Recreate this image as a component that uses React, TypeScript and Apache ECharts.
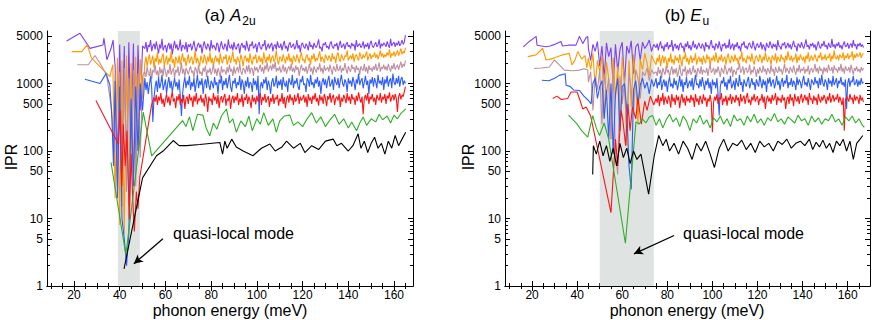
import React, { useEffect, useRef } from "react";
import * as echarts from "echarts";

// ---------- tick labels ----------
const xTickLabels = [20, 40, 60, 80, 100, 120, 140, 160];
const xMinorTicks = [10, 15, 25, 30, 35, 45, 50, 55, 65, 70, 75, 85, 90, 95, 105, 110, 115, 125, 130, 135, 145, 150, 155, 165];
const yTickLabels = [1, 5, 10, 50, 100, 500, 1000, 5000];
const yMinorTicks = [2, 3, 4, 6, 7, 8, 9, 20, 30, 40, 60, 70, 80, 90, 200, 300, 400, 600, 700, 800, 900, 2000, 3000, 4000];

// ================= panel (a) A2u =================
const aBandGrid = [38, 39, 40, 41, 42, 43, 44, 45, 46, 47, 48, 49, 50];
const aDenseGrid = [
  51, 51.5, 52, 52.5, 53, 53.5, 54, 54.5, 55, 55.5, 56, 56.5, 57, 57.5, 58, 58.5, 59, 59.5, 60, 60.5,
  61, 61.5, 62, 62.5, 63, 63.5, 64, 64.5, 65, 65.5, 66, 66.5, 67, 67.5, 68, 68.5, 69, 69.5, 70, 70.5,
  71, 71.5, 72, 72.5, 73, 73.5, 74, 74.5, 75, 75.5, 76, 76.5, 77, 77.5, 78, 78.5, 79, 79.5, 80, 80.5,
  81, 81.5, 82, 82.5, 83, 83.5, 84, 84.5, 85, 85.5, 86, 86.5, 87, 87.5, 88, 88.5, 89, 89.5, 90, 90.5,
  91, 91.5, 92, 92.5, 93, 93.5, 94, 94.5, 95, 95.5, 96, 96.5, 97, 97.5, 98, 98.5, 99, 99.5, 100, 100.5,
  101, 101.5, 102, 102.5, 103, 103.5, 104, 104.5, 105, 105.5, 106, 106.5, 107, 107.5, 108, 108.5, 109, 109.5, 110, 110.5,
  111, 111.5, 112, 112.5, 113, 113.5, 114, 114.5, 115, 115.5, 116, 116.5, 117, 117.5, 118, 118.5, 119, 119.5, 120, 120.5,
  121, 121.5, 122, 122.5, 123, 123.5, 124, 124.5, 125, 125.5, 126, 126.5, 127, 127.5, 128, 128.5, 129, 129.5, 130, 130.5,
  131, 131.5, 132, 132.5, 133, 133.5, 134, 134.5, 135, 135.5, 136, 136.5, 137, 137.5, 138, 138.5, 139, 139.5, 140, 140.5,
  141, 141.5, 142, 142.5, 143, 143.5, 144, 144.5, 145, 145.5, 146, 146.5, 147, 147.5, 148, 148.5, 149, 149.5, 150, 150.5,
  151, 151.5, 152, 152.5, 153, 153.5, 154, 154.5, 155, 155.5, 156, 156.5, 157, 157.5, 158, 158.5, 159, 159.5, 160, 160.5,
  161, 161.5, 162, 162.5, 163, 163.5, 164, 164.5, 165,
];

const aPurpleHead = [[16.8, 4280], [22.6, 5570], [27, 3320], [32.7, 3730], [33.1, 4700], [34.4, 2250], [36.2, 3300], [37.1, 4400]];
const aPurpleBand = [1800, 60, 3800, 90, 3600, 40, 4100, 120, 3900, 50, 3700, 400, 3600];
const aPurpleDense = [
  3300, 4100, 2900, 3700, 3500, 4400, 3000, 3600, 3900, 3200,
  4200, 3400, 2800, 3800, 3300, 4600, 3100, 3500, 3700, 2900,
  3600, 4000, 3200, 3900, 2700, 3500, 4300, 3300, 3800, 3100,
  3400, 4500, 3000, 3700, 3600, 3200, 4100, 2900, 3800, 3500,
  3900, 3100, 3600, 4300, 3300, 3000, 3700, 4000, 3400, 3800,
  2800, 3600, 4200, 3500, 3200, 3900, 3600, 3000, 4400, 3300,
  3700, 3500, 3100, 4000, 3800, 2900, 3600, 4200, 3400, 3200,
  3900, 3600, 3000, 4500, 3500, 3300, 3800, 3100, 4100, 3400,
  3200, 3700, 3900, 2800, 3600, 4000, 3400, 3700, 3100, 4300,
  3500, 3000, 3800, 3600, 4200, 3300, 3500, 3900, 2900, 3700,
  4100, 3400, 3200, 3800, 3600, 4400, 3100, 3500, 3900, 3300,
  3700, 4000, 3000, 3600, 3800, 3200, 4200, 3500, 3400, 3900,
  3100, 3700, 4300, 3300, 3600, 3000, 3800, 4100, 3400, 3600,
  3900, 3200, 3500, 4400, 3300, 3700, 2900, 3800, 4000, 3500,
  3300, 3900, 3600, 3100, 4200, 3500, 3700, 3200, 4000, 3600,
  3400, 3800, 4500, 3300, 3500, 3000, 3900, 3700, 4100, 3400,
  3600, 3200, 3900, 4200, 3500, 3300, 3800, 3600, 4000, 3100,
  3700, 4300, 3400, 3600, 3900, 3200, 3800, 4100, 3500, 3700,
  3300, 4000, 3600, 3800, 3100, 4400, 3500, 3700, 3900, 3400,
  3600, 4200, 3300, 3800, 3500, 4000, 3200, 3900, 4300, 3600,
  3400, 3800, 4100, 3500, 3700, 4500, 3300, 3900, 3600, 4000,
  3800, 3500, 4200, 3700, 3400, 4600, 3600, 3900, 4100, 3500,
  4000, 3700, 4300, 3600, 3900, 4400, 3800, 4100, 5200,
];

const aOrangeHead = [[19, 2970], [23.4, 2970], [25.8, 3730], [27.7, 2370], [35.7, 1270], [37, 1900]];
const aOrangeBand = [20, 2400, 8, 2200, 6, 2600, 15, 2000, 40, 2500, 100, 2300, 600];
const aOrangeDense = [
  2000, 2500, 1800, 2300, 2700, 1900, 2200, 2600, 1700, 2400,
  2100, 2900, 1900, 2300, 2000, 2500, 2800, 1800, 2200, 2600,
  1900, 2400, 2100, 3000, 2000, 2300, 1700, 2500, 2200, 2000,
  2600, 1900, 2300, 2800, 2100, 2400, 1800, 2200, 2700, 2000,
  2300, 2500, 1900, 2200, 3100, 2000, 2400, 2100, 1800, 2600,
  2200, 2000, 2700, 2300, 1900, 2500, 2100, 2900, 2000, 2400,
  1800, 2300, 2600, 2100, 2400, 1900, 2800, 2200, 2000, 2500,
  2300, 2700, 1900, 2200, 2600, 2000, 2400, 3000, 2100, 2300,
  1900, 2500, 2200, 2000, 2700, 2300, 1800, 2400, 2600, 2100,
  2400, 2000, 2800, 2200, 1900, 2500, 2300, 2700, 2000, 2200,
  2600, 2100, 2400, 1900, 2900, 2300, 2000, 2500, 2200, 2700,
  2000, 2400, 2600, 2100, 2300, 3100, 2200, 1900, 2500, 2400,
  2100, 2700, 2300, 2000, 2500, 2200, 2800, 2100, 2400, 1900,
  2600, 2300, 2100, 2700, 2400, 2000, 2500, 2900, 2200, 2300,
  2000, 2500, 2700, 2200, 2400, 1900, 2600, 2300, 2800, 2100,
  2400, 2200, 2600, 3000, 2100, 2500, 2300, 2000, 2700, 2400,
  2200, 2600, 2400, 2100, 2800, 2300, 2500, 2000, 2600, 2900,
  2300, 2100, 2700, 2400, 2200, 2600, 2500, 3100, 2200, 2400,
  2600, 2300, 2800, 2100, 2500, 2700, 2400, 2200, 2900, 2500,
  2300, 2700, 2400, 2600, 3000, 2200, 2500, 2800, 2300, 2600,
  2500, 2900, 2400, 2700, 2300, 2600, 3100, 2500, 2800, 2400,
  2700, 2500, 2900, 2600, 3200, 2400, 2800, 2600, 3000, 2500,
  2800, 3100, 2600, 2900, 3300, 2700, 3000, 2800, 3400,
];

const aMauveHead = [[21.5, 1900], [26.2, 1900], [29.2, 2600], [31.4, 2000], [34.3, 1320], [36.5, 400], [37.5, 90]];
const aMauveBand = [1400, 30, 1500, 15, 1700, 25, 1200, 50, 1600, 30, 1400, 80, 1300];
const aMauveDense = [
  1500, 1250, 1800, 1400, 1300, 1700, 1150, 1600, 1450, 1900,
  1350, 1550, 1200, 1750, 1400, 1650, 1300, 1850, 1500, 1250,
  1600, 1400, 1950, 1350, 1550, 1700, 1200, 1600, 1450, 1800,
  1300, 1500, 2050, 1400, 1650, 1250, 1700, 1550, 1350, 1600,
  1800, 1450, 1550, 1200, 1750, 1600, 1350, 1900, 1400, 1500,
  1300, 1700, 1500, 1850, 1250, 1600, 1450, 1700, 1350, 1550,
  1950, 1400, 1650, 1300, 1700, 1500, 1200, 1800, 1450, 1600,
  1550, 1350, 1750, 1450, 1900, 1500, 1650, 1300, 1800, 1400,
  1600, 1750, 1450, 2000, 1500, 1350, 1700, 1600, 1400, 1850,
  1500, 1900, 1400, 1700, 1650, 1300, 1800, 1550, 1750, 1450,
  1650, 1900, 1500, 1750, 1400, 1850, 1600, 2050, 1500, 1700,
  1850, 1550, 1950, 1650, 2100, 1500, 1700, 1550, 1800, 1450,
  1600, 1900, 1500, 1750, 1400, 1650, 1800, 1550, 1950, 1500,
  1700, 1450, 1850, 1600, 1750, 1300, 1650, 1900, 1550, 1700,
  1500, 1800, 1400, 1650, 1950, 1500, 1700, 1350, 1800, 1600,
  1450, 1750, 1600, 2000, 1500, 1700, 1400, 1850, 1550, 1650,
  1750, 1500, 1900, 1600, 1350, 1800, 1650, 1500, 1950, 1550,
  1600, 1850, 1450, 1700, 1550, 2000, 1650, 1400, 1800, 1600,
  1500, 1900, 1650, 1750, 1450, 1850, 1600, 1700, 1350, 1800,
  1650, 1550, 1950, 1500, 1750, 1400, 1850, 1600, 1700, 1500,
  1800, 1600, 1950, 1550, 1700, 2050, 1500, 1750, 1650, 1900,
  1600, 1800, 1550, 1950, 1700, 1500, 1850, 1650, 2000, 1600,
  1750, 1900, 1600, 1850, 2100, 1700, 1950, 1800, 2200,
];

const aBlueHead = [[24.8, 1160], [31.4, 1000], [34, 1400], [35.7, 950], [36.6, 300], [37.3, 60]];
const aBlueBand = [1100, 20, 900, 10, 5, 2, 6, 600, 30, 900, 100, 1000, 400];
const aBlueDense = [
  1200, 800, 1050, 700, 950, 1300, 850, 270, 600, 900,
  1100, 750, 1250, 850, 1000, 1350, 800, 950, 1150, 700,
  1000, 1250, 850, 1100, 750, 950, 1200, 900, 1050, 800,
  1150, 650, 330, 700, 1000, 1250, 850, 1100, 950, 1300,
  800, 1050, 900, 1200, 750, 1000, 1350, 850, 1100, 950,
  1200, 700, 1000, 1150, 850, 1300, 950, 800, 1100, 1000,
  850, 1250, 950, 1050, 700, 1150, 1000, 1300, 800, 1100,
  950, 1200, 850, 1050, 1350, 900, 750, 1100, 1000, 1200,
  850, 1050, 950, 1300, 800, 1150, 1000, 700, 1100, 900,
  1250, 850, 1050, 1000, 750, 1200, 950, 1100, 800, 1300,
  350, 900, 1050, 850, 1150, 1000, 1250, 800, 1100, 950,
  700, 1050, 1200, 900, 1000, 1300, 850, 1100, 950, 1150,
  800, 1250, 1000, 900, 1100, 750, 1200, 1050, 950, 1350,
  850, 1100, 1000, 1200, 900, 800, 1150, 1050, 1300, 950,
  1000, 750, 1200, 1100, 900, 1350, 950, 1050, 850, 1150,
  1000, 1250, 900, 1100, 700, 1050, 1200, 950, 1150, 850,
  1100, 1300, 900, 1000, 1150, 800, 1250, 1050, 950, 1200,
  850, 1100, 1350, 1000, 900, 1150, 1050, 750, 1200, 1000,
  1100, 900, 1250, 1050, 800, 1150, 1000, 1400, 950, 1100,
  1200, 850, 1050, 1300, 950, 1100, 700, 1150, 1000, 1250,
  900, 1200, 1050, 850, 1350, 1000, 1100, 950, 1250, 800,
  1150, 1000, 1300, 900, 1100, 1200, 850, 1400, 1050, 950,
  1200, 1000, 1300, 900, 1150, 1250, 950, 1100, 1000,
];

const aRedHead = [[29.6, 560], [39.4, 127], [40.2, 400], [40.9, 30], [41.6, 250], [42.4, 60], [43.2, 200], [44.2, 9.6], [45, 90], [45.7, 20], [46.4, 6.4], [47.3, 25], [48, 14], [48.8, 41], [53.9, 475]];
const aRedDense = [
  620, 540, 680, 480, 640, 560, 720, 500, 600, 450,
  580, 700, 520, 640, 470, 610, 760, 540, 600, 430,
  650, 560, 700, 480, 590, 520, 680, 420, 600, 640,
  500, 700, 560, 620, 450, 660, 540, 730, 490, 600,
  560, 680, 520, 610, 460, 700, 580, 380, 640, 550,
  600, 480, 720, 560, 640, 500, 680, 430, 590, 650,
  520, 620, 700, 470, 600, 550, 680, 420, 580, 660,
  510, 640, 560, 720, 480, 600, 530, 690, 450, 620,
  570, 700, 500, 640, 560, 430, 680, 540, 620, 490,
  660, 540, 600, 720, 480, 630, 560, 700, 520, 590,
  650, 450, 610, 540, 700, 500, 620, 580, 680, 470,
  600, 540, 720, 500, 630, 430, 590, 660, 520, 700,
  560, 620, 480, 680, 540, 600, 720, 500, 640, 560,
  600, 680, 520, 640, 450, 700, 560, 620, 500, 660,
  580, 720, 540, 610, 470, 680, 560, 640, 500, 700,
  600, 460, 650, 580, 720, 520, 620, 680, 480, 600,
  640, 560, 700, 450, 620, 540, 680, 600, 510, 720,
  560, 640, 500, 700, 580, 620, 480, 660, 550, 740,
  600, 520, 640, 350, 600, 680, 560, 720, 500, 640,
  580, 700, 540, 620, 480, 680, 600, 560, 720, 520,
  640, 580, 700, 500, 660, 600, 740, 540, 620, 680,
  560, 700, 600, 380, 640, 720, 580, 680, 640, 760,
  900,
];

const aGreen = [[36.2, 68], [42.7, 2.9], [50.3, 378], [54, 85], [67.5, 283], [69, 230], [70.5, 320], [72, 200], [74, 350], [76.4, 340], [77.8, 220], [79.4, 168], [81, 260], [82.5, 210], [84.5, 330], [86.7, 420], [88, 260], [89.5, 300], [91, 190], [93, 280], [95, 230], [96.5, 330], [98, 200], [100, 300], [101.5, 250], [103, 370], [105, 240], [107, 300], [108.5, 190], [110, 280], [112, 330], [114.4, 340], [116, 240], [118, 270], [120, 230], [122, 300], [124, 370], [126, 260], [128, 320], [130, 230], [132, 290], [134, 350], [136, 250], [138, 300], [140, 220], [141.5, 270], [143.6, 200], [145, 260], [146.5, 320], [148, 240], [150, 300], [152, 270], [153.5, 350], [155, 290], [157, 330], [158.5, 260], [160, 340], [161.5, 300], [163, 360], [165.1, 420]];

const aBlack = [[41.9, 1.8], [44.5, 4.9], [50, 40], [56.1, 85], [59, 100], [63.4, 143], [66, 120], [69.3, 120], [75, 125], [83.8, 134], [85, 90], [86, 140], [87, 110], [89, 150], [91, 115], [94, 100], [98.3, 85], [102, 110], [105.7, 127], [108, 100], [111, 115], [113, 140], [116, 110], [119, 130], [121, 95], [124, 120], [127, 105], [130, 140], [133.4, 150], [135, 120], [137, 130], [140, 100], [142, 120], [144.3, 180], [145.5, 110], [147, 140], [148.5, 95], [150, 130], [151.5, 160], [153, 110], [154.5, 130], [156, 90], [157.5, 140], [159, 110], [160.5, 170], [162, 120], [163.5, 150], [165.1, 190]];

// ================= panel (b) Eu =================
const bBandGrid = [45, 46, 47, 48, 49, 50, 51, 52, 53, 54, 55, 56, 57, 58, 59, 60, 61, 62, 63, 64, 65, 66, 67, 68, 69, 70, 71, 72, 73, 74];
const bDenseGrid = [
  75, 75.5, 76, 76.5, 77, 77.5, 78, 78.5, 79, 79.5, 80, 80.5, 81, 81.5, 82, 82.5, 83, 83.5, 84, 84.5,
  85, 85.5, 86, 86.5, 87, 87.5, 88, 88.5, 89, 89.5, 90, 90.5, 91, 91.5, 92, 92.5, 93, 93.5, 94, 94.5,
  95, 95.5, 96, 96.5, 97, 97.5, 98, 98.5, 99, 99.5, 100, 100.5, 101, 101.5, 102, 102.5, 103, 103.5, 104, 104.5,
  105, 105.5, 106, 106.5, 107, 107.5, 108, 108.5, 109, 109.5, 110, 110.5, 111, 111.5, 112, 112.5, 113, 113.5, 114, 114.5,
  115, 115.5, 116, 116.5, 117, 117.5, 118, 118.5, 119, 119.5, 120, 120.5, 121, 121.5, 122, 122.5, 123, 123.5, 124, 124.5,
  125, 125.5, 126, 126.5, 127, 127.5, 128, 128.5, 129, 129.5, 130, 130.5, 131, 131.5, 132, 132.5, 133, 133.5, 134, 134.5,
  135, 135.5, 136, 136.5, 137, 137.5, 138, 138.5, 139, 139.5, 140, 140.5, 141, 141.5, 142, 142.5, 143, 143.5, 144, 144.5,
  145, 145.5, 146, 146.5, 147, 147.5, 148, 148.5, 149, 149.5, 150, 150.5, 151, 151.5, 152, 152.5, 153, 153.5, 154, 154.5,
  155, 155.5, 156, 156.5, 157, 157.5, 158, 158.5, 159, 159.5, 160, 160.5, 161, 161.5, 162, 162.5, 163, 163.5, 164, 164.5,
  165, 165.5, 166, 166.5, 167,
];

const bPurpleHead = [[16.1, 3500], [18.8, 4200], [21.8, 5000], [22.2, 3700], [26.2, 3500], [28, 3600], [30, 3800], [32.8, 4200], [33.5, 3600], [36, 3700], [39.5, 3700], [41, 5000], [42.5, 3900], [44, 4800], [44.7, 5000]];
const bPurpleBand = [3300, 2200, 3800, 3000, 4200, 1800, 3600, 1200, 4000, 2500, 3400, 900, 3800, 1500, 3200, 4100, 1000, 3600, 2800, 4300, 1400, 3500, 3900, 2200, 4100, 3300, 3700, 4400, 3000, 3800];
const bPurpleDense = [
  3400, 3900, 3100, 3700, 4200, 3300, 3600, 3000, 3800, 3500,
  4100, 3200, 3700, 3500, 4400, 3000, 3600, 3900, 3300, 3700,
  3100, 3800, 4000, 3400, 3600, 2900, 3900, 3500, 4200, 3300,
  3700, 3100, 3600, 4300, 3400, 3800, 3200, 3600, 4000, 3500,
  3300, 3900, 3600, 3000, 4100, 3500, 3700, 3200, 3800, 4400,
  3400, 3600, 3100, 3900, 3700, 3300, 4200, 3500, 3000, 3800,
  3600, 4000, 3300, 3700, 3400, 4500, 3200, 3600, 3900, 3100,
  3800, 3500, 4100, 3300, 3600, 3000, 3900, 3700, 4200, 3400,
  3600, 3200, 3800, 4000, 3500, 3300, 4300, 3600, 3100, 3700,
  3900, 3400, 3600, 4100, 3200, 3800, 3500, 3000, 4000, 3600,
  3400, 4200, 3700, 3300, 3900, 3500, 3800, 3100, 4400, 3600,
  3500, 3200, 3900, 3700, 4100, 3300, 3600, 4000, 3400, 3800,
  3200, 3700, 4300, 3500, 3600, 3000, 3900, 3700, 3400, 4100,
  3600, 3300, 3800, 4500, 3500, 3700, 3200, 3900, 3600, 4000,
  3400, 3800, 3100, 3700, 4200, 3500, 3300, 3900, 3600, 4300,
  3500, 3700, 3200, 4000, 3600, 3400, 4600, 3500, 3800, 3300,
  3900, 3600, 4100, 3400, 3700, 3200, 3800, 4200, 3500, 3600,
  4000, 3300, 3700, 3900, 3400, 4400, 3600, 3800, 3200, 3900,
  3600, 4000, 3500, 3800, 3400,
];

const bOrangeHead = [[18.1, 2500], [21.8, 2660], [24.7, 3330], [26.2, 2230], [28, 2300], [30, 2400], [33.6, 2660], [36.5, 2800], [37.7, 1880], [39, 2200], [40.3, 2970], [42, 2300], [43.5, 2600], [44.3, 1700]];
const bOrangeBand = [2400, 1600, 2800, 900, 2200, 1500, 2600, 300, 2100, 1200, 150, 2400, 600, 1800, 200, 2500, 1100, 120, 2200, 450, 2700, 900, 250, 2300, 1600, 2800, 2000, 1300, 2600, 2200];
const bOrangeDense = [
  1900, 2400, 2100, 2700, 1800, 2300, 2600, 2000, 2500, 2200,
  1700, 2400, 2100, 2800, 2000, 2300, 1900, 2600, 2200, 2400,
  2000, 2700, 2200, 1800, 2500, 2300, 2900, 2100, 2400, 1900,
  2300, 2600, 2000, 2400, 2200, 2800, 1900, 2300, 2500, 2100,
  2400, 1900, 2600, 2200, 2000, 2700, 2300, 2500, 1800, 2400,
  2200, 2600, 2100, 2900, 2300, 2000, 2500, 2200, 2700, 2100,
  2300, 2500, 1900, 2400, 2800, 2200, 2000, 2600, 2300, 2100,
  2700, 2200, 2400, 1900, 2500, 2300, 3000, 2100, 2400, 2200,
  2000, 2600, 2300, 2500, 2100, 2800, 2200, 1900, 2400, 2600,
  2300, 2100, 2700, 2400, 2000, 2500, 2200, 2900, 2300, 2100,
  2500, 2300, 1900, 2600, 2400, 2200, 2800, 2000, 2500, 2300,
  2100, 2700, 2300, 2400, 2000, 2600, 2200, 3000, 2400, 2200,
  2600, 2100, 2400, 2300, 2800, 2000, 2500, 2200, 2700, 2400,
  2200, 2500, 2000, 2600, 2300, 2900, 2100, 2400, 2600, 2200,
  2400, 2700, 2300, 2100, 2600, 2400, 2900, 2200, 2500, 2300,
  2700, 2200, 2500, 2400, 2800, 2100, 2600, 2300, 3100, 2400,
  2300, 2600, 2200, 2700, 2500, 2400, 2900, 2200, 2600, 2400,
  2800, 2300, 2600, 2500, 3000, 2200, 2700, 2400, 2800, 2500,
  2600, 2900, 2400, 2700, 2800,
];

const bMauveHead = [[21, 1675], [24, 1700], [27.7, 1760], [29.9, 2230], [32, 1900], [34.3, 1580], [38, 1550], [41, 1580], [43, 1650], [44.7, 1600]];
const bMauveBand = [1050, 1500, 400, 1300, 800, 1600, 250, 1400, 700, 1200, 150, 1500, 90, 45, 1300, 500, 1100, 200, 1400, 800, 350, 1600, 1200, 600, 1500, 1300, 1700, 1100, 1600, 1400];
const bMauveDense = [
  1500, 1300, 1750, 1400, 1600, 1200, 1700, 1500, 1350, 1850,
  1450, 1600, 1250, 1550, 1800, 1350, 1650, 1400, 1700, 1250,
  1500, 1900, 1400, 1300, 1650, 1500, 1800, 1250, 1600, 1400,
  1700, 1350, 1500, 1850, 1450, 1600, 1250, 1700, 1550, 1400,
  1800, 1350, 1600, 1500, 1450, 1700, 1300, 1650, 1900, 1450,
  1550, 1700, 1350, 1650, 1450, 1800, 1500, 1250, 1700, 1550,
  1400, 1900, 1600, 1350, 1550, 1700, 1450, 1800, 1250, 1600,
  1500, 1350, 1700, 1600, 2000, 1450, 1550, 1800, 1350, 1650,
  1700, 1450, 1550, 1900, 1350, 1600, 1450, 1800, 1550, 1250,
  1650, 1400, 1750, 1550, 1450, 1850, 1500, 1650, 1350, 1700,
  1550, 1400, 1900, 1500, 1650, 1300, 1750, 1550, 1450, 1800,
  1500, 1650, 1350, 1600, 1950, 1450, 1700, 1550, 1400, 1750,
  1600, 1450, 1850, 1550, 1350, 1700, 1500, 1900, 1450, 1650,
  1550, 1750, 1400, 1650, 1500, 1850, 1350, 1600, 1700, 1450,
  1600, 1950, 1500, 1700, 1400, 1800, 1550, 1650, 1350, 1750,
  1500, 1700, 1450, 1900, 1600, 1550, 1750, 1400, 1850, 1600,
  1650, 1450, 1750, 1550, 1950, 1500, 1700, 1400, 1800, 1600,
  1550, 1750, 1450, 1900, 1600, 1350, 1700, 1550, 1800, 1500,
  1650, 1450, 1750, 1550, 1700,
];

const bBlueHead = [[24.4, 1120], [27.5, 1100], [30, 1200], [32.1, 1320], [34.7, 1400], [35.1, 940], [37, 900], [38.5, 800], [41, 790], [43, 650], [45, 560], [46.2, 500]];
const bBlueBand = [1000, 1200, 600, 900, 1100, 300, 800, 150, 1000, 90, 700, 1200, 200, 900, 1000, 400, 60, 27, 800, 1100, 500, 950, 1200, 850, 1050, 700, 1150, 900];
const bBlueDense = [
  1200, 850, 1050, 950, 1300, 800, 1000, 1150, 900, 1100,
  750, 1050, 1250, 900, 1000, 850, 1200, 950, 1100, 800,
  1000, 1300, 900, 1150, 750, 1050, 950, 1250, 850, 1000,
  1100, 900, 1200, 800, 1050, 1350, 950, 1000, 850, 1150,
  900, 1250, 1000, 800, 1100, 950, 1200, 850, 1050, 700,
  1150, 950, 1050, 850, 1200, 700, 335, 900, 1100, 1000,
  1250, 900, 1050, 800, 1150, 1000, 1300, 850, 950, 1100,
  800, 1200, 1000, 900, 1350, 950, 1050, 750, 1150, 1000,
  900, 1100, 1250, 850, 1000, 1200, 950, 1050, 800, 1150,
  1000, 900, 1300, 1050, 850, 1150, 950, 1100, 750, 1200,
  1000, 1250, 900, 1050, 1150, 850, 1000, 1300, 950, 1100,
  800, 1050, 1200, 900, 1100, 1000, 1350, 850, 1050, 950,
  1200, 900, 1100, 1000, 800, 1250, 950, 1150, 1050, 850,
  1100, 1300, 950, 1050, 900, 1200, 1000, 800, 1150, 1050,
  950, 1250, 1000, 1100, 850, 1200, 950, 1350, 1000, 900,
  1150, 1050, 800, 1200, 1000, 1100, 900, 1300, 950, 1050,
  1200, 850, 1100, 1000, 1250, 950, 1050, 900, 1150, 420,
  1000, 1200, 900, 1100, 1050, 1300, 950, 1000, 1150, 900,
  1100, 950, 1200, 1000, 1050,
];

const bRedHead = [[29.2, 600], [31, 650], [33, 580], [35.8, 600], [37.3, 750], [40, 750], [41, 600], [42.5, 420], [44, 450], [46, 330], [49.1, 107], [55, 12.2], [57, 150], [58, 60], [59.5, 400], [60.2, 300], [61.5, 120], [62.5, 500], [63.5, 200], [64.5, 450], [66, 300], [67, 600], [68.5, 250], [70, 550], [71, 400], [72.5, 650], [74, 480]];
const bRedDense = [
  600, 520, 680, 460, 620, 550, 720, 480, 640, 570,
  500, 660, 580, 440, 700, 540, 620, 480, 680, 560,
  640, 430, 600, 700, 520, 620, 470, 660, 550, 600,
  520, 680, 560, 620, 450, 700, 540, 600, 480, 660,
  580, 500, 690, 560, 620, 450, 600, 540, 680, 520,
  190, 520, 640, 560, 700, 500, 620, 580, 720, 480,
  600, 540, 660, 470, 620, 560, 700, 500, 640, 580,
  520, 680, 560, 620, 460, 700, 540, 600, 660, 500,
  620, 720, 520, 580, 480, 640, 560, 700, 540, 600,
  650, 480, 600, 560, 700, 520, 640, 420, 580, 660,
  540, 620, 500, 680, 560, 600, 720, 480, 640, 560,
  600, 520, 680, 560, 620, 420, 580, 640, 500, 700,
  560, 620, 460, 700, 580, 540, 650, 500, 620, 700,
  520, 600, 680, 560, 640, 480, 720, 580, 600, 500,
  660, 560, 620, 480, 700, 580, 520, 640, 560, 680,
  600, 500, 640, 560, 720, 520, 600, 680, 540, 620,
  580, 700, 520, 640, 560, 480, 620, 200, 560, 640,
  600, 540, 700, 580, 620, 500, 680, 560, 640, 600,
  500, 680, 560, 620, 530,
];

const bGreen = [[36.2, 340], [40, 250], [42, 200], [44.7, 160], [46.9, 335], [48.5, 220], [49.9, 170], [52, 260], [54, 150], [61.4, 4.3], [66.1, 270], [67.5, 250], [69, 300], [70.5, 260], [72, 320], [73.5, 335], [75, 240], [76.5, 300], [78, 220], [79.5, 290], [81, 350], [82.5, 270], [84, 310], [85.5, 230], [87, 330], [88.5, 280], [90, 200], [91.5, 300], [93, 260], [94.5, 340], [96, 250], [97.5, 290], [99, 220], [100.5, 310], [102, 270], [103.5, 330], [105, 250], [106.5, 300], [108, 230], [109.5, 340], [111, 280], [112.5, 300], [114, 240], [115.5, 330], [117, 270], [118.5, 350], [120, 260], [121.5, 300], [123, 240], [124.5, 310], [126, 280], [127.5, 360], [129, 270], [130.5, 300], [132, 250], [133.5, 320], [135, 290], [136.5, 260], [138, 340], [139.5, 280], [141, 300], [142.5, 240], [144, 330], [145.5, 270], [147, 310], [148.5, 250], [150, 300], [151.5, 280], [153, 350], [154.5, 270], [156, 300], [157.5, 240], [159, 320], [160.5, 280], [162, 330], [163.5, 260], [165, 300], [166.5, 240], [167.4, 225]];

const bBlack = [[46.9, 45], [47.2, 120], [48.5, 90], [50, 140], [51.5, 85], [53, 120], [54.5, 70], [56, 110], [57.5, 60], [59, 130], [60.5, 80], [62, 110], [63.5, 65], [65, 100], [66.5, 75], [68.3, 90], [71.7, 23], [74.2, 85], [76.2, 170], [78, 120], [79.5, 150], [81, 100], [83, 130], [85, 90], [87, 140], [89, 110], [91, 75], [93, 130], [95, 100], [97, 140], [99, 90], [100.9, 57], [103, 110], [105, 150], [107, 100], [109, 130], [111, 120], [113, 145], [115, 105], [117, 130], [119, 95], [121, 140], [123, 115], [125, 130], [127, 100], [129, 140], [131, 125], [133, 150], [135, 110], [137, 130], [139, 140], [141, 120], [143, 150], [144.5, 105], [146, 135], [147.5, 115], [149, 145], [150.5, 110], [152, 130], [153.5, 95], [155, 140], [156.5, 120], [158, 150], [159.5, 100], [161, 140], [162.5, 75], [164, 130], [165.5, 150], [166.7, 170]];

// shaded "quasi-local mode" energy windows and arrow anchors (meV, IPR)
const aBand = [39.2, 48.8];
const bBand = [50, 74];
const aArrow = [[58.9, 5.0], [46.2, 2.13]];
const bArrow = [[83, 5.6], [65.2, 3.0]];

const FONT = '"Liberation Sans", Arial, Helvetica, sans-serif';
const COLORS = {
  purple: "#7f40f6",
  orange: "#ff9a00",
  mauve: "#bf8fa0",
  blue: "#2d5cff",
  red: "#ff1414",
  green: "#2eae26",
  black: "#000000",
};

function seg(grid: number[], start: number, vals: number[]) {
  const i0 = grid.indexOf(start);
  return vals.map((v, i) => [grid[i0 + i], v]).filter((p) => p[0] !== undefined);
}
const toLog = (pts: number[][]) => pts.map(([e, v]) => [e, Math.log10(v)]);
const lg = (arr: number[]) => arr.map((v) => Math.log10(v));

function xAxes(gridIndex: number, min: number, max: number) {
  const base: any = { type: "value", gridIndex, min, max, splitLine: { show: false } };
  const line = { show: true, lineStyle: { color: "#000", width: 1 } };
  const tick = (vals: number[], len: number) => ({ show: true, inside: true, length: len, customValues: vals, lineStyle: { color: "#000", width: 1 } });
  return [
    { ...base, position: "bottom", axisLine: line, axisTick: tick(xTickLabels, 5), axisLabel: { show: true, customValues: xTickLabels, margin: 3, color: "#000", fontSize: 12, fontFamily: FONT } },
    { ...base, position: "bottom", axisLine: { show: false }, axisTick: tick(xMinorTicks, 3), axisLabel: { show: false } },
    { ...base, position: "top", axisLine: line, axisTick: tick(xTickLabels, 5), axisLabel: { show: false } },
    { ...base, position: "top", axisLine: { show: false }, axisTick: tick(xMinorTicks, 3), axisLabel: { show: false } },
  ];
}

function yAxes(gridIndex: number) {
  const base: any = { type: "value", gridIndex, min: 0, max: Math.log10(6000), splitLine: { show: false } };
  const line = { show: true, lineStyle: { color: "#000", width: 1 } };
  const tick = (vals: number[], len: number) => ({ show: true, inside: true, length: len, customValues: lg(vals), lineStyle: { color: "#000", width: 1 } });
  return [
    {
      ...base, position: "left", axisLine: line, axisTick: tick(yTickLabels, 5),
      axisLabel: { show: true, customValues: lg(yTickLabels), margin: 4, color: "#000", fontSize: 12, fontFamily: FONT, formatter: (v: number) => String(Math.round(Math.pow(10, v))) },
    },
    { ...base, position: "left", axisLine: { show: false }, axisTick: tick(yMinorTicks, 3), axisLabel: { show: false } },
    { ...base, position: "right", axisLine: line, axisTick: tick(yTickLabels, 5), axisLabel: { show: false } },
    { ...base, position: "right", axisLine: { show: false }, axisTick: tick(yMinorTicks, 3), axisLabel: { show: false } },
  ];
}

function panelSeries(g: number, lines: { name: string; color: string; data: number[][] }[], band: number[], arrow: number[][]) {
  const xi = g * 4;
  const yi = g * 4;
  const out: any[] = [
    {
      type: "line", name: "band" + g, xAxisIndex: xi, yAxisIndex: yi, data: [], z: 1, silent: true,
      markArea: { silent: true, itemStyle: { color: "#dfe3e1" }, data: [[{ xAxis: band[0] }, { xAxis: band[1] }]] },
      markLine: {
        silent: true, symbol: ["none", "arrow"], symbolSize: [7, 9], label: { show: false },
        lineStyle: { color: "#000", width: 1.3, type: "solid" },
        data: [[{ coord: [arrow[0][0], Math.log10(arrow[0][1])] }, { coord: [arrow[1][0], Math.log10(arrow[1][1])] }]],
      },
    },
  ];
  lines.forEach((l) => {
    out.push({
      type: "line", name: l.name, xAxisIndex: xi, yAxisIndex: yi, data: toLog(l.data), z: 2,
      showSymbol: false, symbol: "none", silent: true,
      lineStyle: { color: l.color, width: 1.1 },
    });
  });
  return out;
}

export default function App() {
  const ref = useRef<HTMLDivElement>(null);
  useEffect(() => {
    document.body.style.margin = "0";
    if (!ref.current) return;
    const chart = echarts.init(ref.current, null, { renderer: "svg" });

    const aLines = [
      { name: "a-purple", color: COLORS.purple, data: aPurpleHead.concat(seg(aBandGrid, 38, aPurpleBand), seg(aDenseGrid, 51, aPurpleDense)) },
      { name: "a-orange", color: COLORS.orange, data: aOrangeHead.concat(seg(aBandGrid, 38, aOrangeBand), seg(aDenseGrid, 51, aOrangeDense)) },
      { name: "a-mauve", color: COLORS.mauve, data: aMauveHead.concat(seg(aBandGrid, 38, aMauveBand), seg(aDenseGrid, 51, aMauveDense)) },
      { name: "a-blue", color: COLORS.blue, data: aBlueHead.concat(seg(aBandGrid, 38, aBlueBand), seg(aDenseGrid, 51, aBlueDense)) },
      { name: "a-red", color: COLORS.red, data: aRedHead.concat(seg(aDenseGrid, 55, aRedDense)) },
      { name: "a-green", color: COLORS.green, data: aGreen },
      { name: "a-black", color: COLORS.black, data: aBlack },
    ];
    const bLines = [
      { name: "b-purple", color: COLORS.purple, data: bPurpleHead.concat(seg(bBandGrid, 45, bPurpleBand), seg(bDenseGrid, 75, bPurpleDense)) },
      { name: "b-orange", color: COLORS.orange, data: bOrangeHead.concat(seg(bBandGrid, 45, bOrangeBand), seg(bDenseGrid, 75, bOrangeDense)) },
      { name: "b-mauve", color: COLORS.mauve, data: bMauveHead.concat(seg(bBandGrid, 45, bMauveBand), seg(bDenseGrid, 75, bMauveDense)) },
      { name: "b-blue", color: COLORS.blue, data: bBlueHead.concat(seg(bBandGrid, 47, bBlueBand), seg(bDenseGrid, 75, bBlueDense)) },
      { name: "b-red", color: COLORS.red, data: bRedHead.concat(seg(bDenseGrid, 75, bRedDense)) },
      { name: "b-green", color: COLORS.green, data: bGreen },
      { name: "b-black", color: COLORS.black, data: bBlack },
    ];

    const txt = (x: number, y: number, text: string, size: number, extra: any = {}) => ({
      type: "text", x, y, silent: true, ...extra,
      style: { text, fill: "#000", fontSize: size, fontFamily: FONT, textAlign: "center", textVerticalAlign: "middle" },
    });
    const titleRich = {
      n: { fontSize: 17, fontFamily: FONT, fill: "#000", lineHeight: 24 },
      i: { fontSize: 17, fontFamily: FONT, fill: "#000", fontStyle: "italic", lineHeight: 24 },
      s: { fontSize: 12, fontFamily: FONT, fill: "#000", padding: [11, 0, 0, 1], lineHeight: 24 },
    };

    const option: any = {
      animation: false,
      grid: [
        { left: 47, right: 459, top: 31, bottom: 34 },
        { left: 505, right: 2, top: 31, bottom: 34 },
      ],
      xAxis: [...xAxes(0, 8.2, 168.3), ...xAxes(1, 8, 169.9)],
      yAxis: [...yAxes(0), ...yAxes(1)],
      series: [...panelSeries(0, aLines, aBand, aArrow), ...panelSeries(1, bLines, bBand, bArrow)],
      graphic: [
        { type: "text", x: 230, y: 15, silent: true, style: { text: "{n|(a) }{i|A}{s|2u}", rich: titleRich, textAlign: "center", textVerticalAlign: "middle", fill: "#000", fontSize: 17, fontFamily: FONT } },
        { type: "text", x: 687, y: 15, silent: true, style: { text: "{n|(b) }{i|E}{s|u}", rich: titleRich, textAlign: "center", textVerticalAlign: "middle", fill: "#000", fontSize: 17, fontFamily: FONT } },
        txt(230, 310, "phonon energy (meV)", 16),
        txt(687, 310, "phonon energy (meV)", 16),
        txt(11, 157, "IPR", 16, { rotation: Math.PI / 2 }),
        txt(468, 157, "IPR", 16, { rotation: Math.PI / 2 }),
        { type: "text", x: 173, y: 233, silent: true, style: { text: "quasi-local mode", fill: "#000", fontSize: 16, fontFamily: FONT, textAlign: "left", textVerticalAlign: "middle" } },
        { type: "text", x: 683, y: 233, silent: true, style: { text: "quasi-local mode", fill: "#000", fontSize: 16, fontFamily: FONT, textAlign: "left", textVerticalAlign: "middle" } },
      ],
    };
    chart.setOption(option);
    return () => chart.dispose();
  }, []);
  return <div ref={ref} style={{ width: 872, height: 320 }} />;
}
